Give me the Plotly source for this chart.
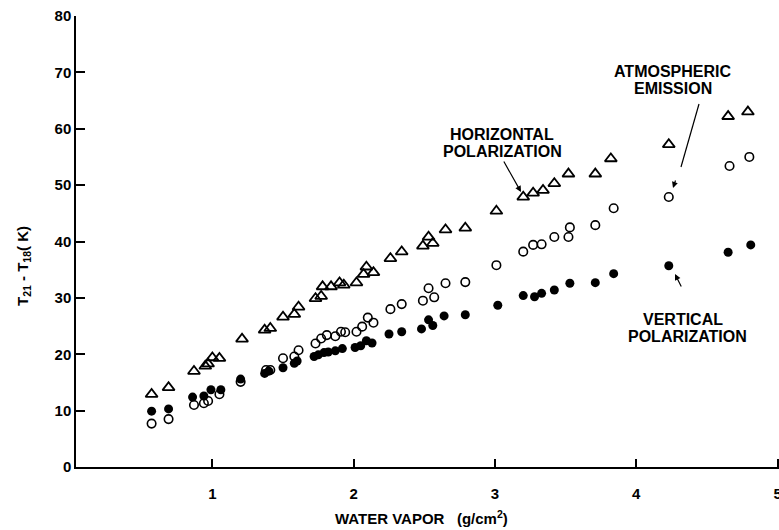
import plotly.graph_objects as go

# Water vapor (g/cm^2) and T21 - T18 (K)
tri_x = [0.57, 0.69, 0.87, 0.95, 0.97, 1.00, 1.05, 1.21, 1.37, 1.41, 1.50, 1.58, 1.61, 1.73, 1.77,
         1.78, 1.84, 1.90, 1.93, 2.02, 2.07, 2.09, 2.14, 2.26, 2.34, 2.49, 2.53, 2.56, 2.65, 2.79,
         3.01, 3.20, 3.27, 3.34, 3.42, 3.52, 3.71, 3.82, 4.23, 4.65, 4.79]
tri_y = [12.9, 14.1, 17.0, 17.9, 18.3, 19.4, 19.3, 22.7, 24.3, 24.6, 26.6, 27.1, 28.4, 29.9, 30.3,
         32.0, 32.0, 32.7, 32.3, 32.7, 34.2, 35.5, 34.5, 37.0, 38.2, 39.2, 40.8, 39.7, 42.1, 42.4,
         45.4, 47.9, 48.6, 49.1, 50.3, 52.0, 52.0, 54.7, 57.2, 62.2, 63.0]

open_x = [0.57, 0.69, 0.87, 0.94, 0.97, 1.05, 1.20, 1.38, 1.41, 1.50, 1.58, 1.61, 1.73, 1.77, 1.81,
          1.87, 1.91, 1.94, 2.02, 2.06, 2.10, 2.14, 2.26, 2.34, 2.49, 2.53, 2.57, 2.65, 2.79, 3.01,
          3.20, 3.27, 3.33, 3.42, 3.52, 3.53, 3.71, 3.84, 4.23, 4.66, 4.80]
open_y = [7.7, 8.5, 11.0, 11.3, 11.7, 12.9, 15.1, 17.2, 17.2, 19.3, 19.6, 20.7, 21.9, 22.8, 23.4,
          23.2, 24.0, 23.9, 24.0, 24.9, 26.5, 25.6, 28.0, 28.9, 29.5, 31.7, 30.1, 32.6, 32.8, 35.8,
          38.2, 39.4, 39.5, 40.8, 40.8, 42.5, 42.9, 45.9, 47.9, 53.4, 55.0]

fill_x = [0.57, 0.69, 0.86, 0.94, 0.99, 1.06, 1.20, 1.37, 1.40, 1.50, 1.58, 1.60, 1.72, 1.75, 1.79,
          1.82, 1.87, 1.92, 2.01, 2.05, 2.09, 2.13, 2.25, 2.34, 2.48, 2.53, 2.56, 2.64, 2.79, 3.02,
          3.20, 3.28, 3.33, 3.42, 3.53, 3.71, 3.84, 4.23, 4.65, 4.81]
fill_y = [9.9, 10.3, 12.4, 12.6, 13.7, 13.7, 15.6, 16.6, 17.0, 17.6, 18.4, 18.8, 19.6, 19.9, 20.3,
          20.4, 20.6, 21.0, 21.2, 21.5, 22.4, 22.0, 23.6, 24.0, 24.5, 26.1, 25.1, 26.8, 27.0, 28.7,
          30.4, 30.2, 30.8, 31.4, 32.6, 32.7, 34.3, 35.7, 38.1, 39.4]

x_ticks = [1, 2, 3, 4, 5]
y_ticks = [0, 10, 20, 30, 40, 50, 60, 70, 80]

FONT = "Liberation Sans"
W, H = 779, 530
ML, MR, MT, MB = 76, 0, 16, 63
PW, PH = W - ML - MR, H - MT - MB


def px(xp):
    return (xp - ML) / PW


def py(yp):
    return (H - MB - yp) / PH


fig = go.Figure()
fig.add_trace(go.Scatter(x=tri_x, y=tri_y, mode="markers",
                         marker=dict(symbol="triangle-up-open", size=10.5, color="black",
                                     line=dict(width=1.8, color="black"))))
fig.add_trace(go.Scatter(x=open_x, y=open_y, mode="markers",
                         marker=dict(symbol="circle-open", size=8.5, color="black",
                                     line=dict(width=1.6, color="black"))))
fig.add_trace(go.Scatter(x=fill_x, y=fill_y, mode="markers",
                         marker=dict(symbol="circle", size=9, color="black",
                                     line=dict(width=0))))

tfont = dict(family=FONT, size=15, color="black", weight="bold")
fig.update_layout(
    width=W, height=H,
    margin=dict(l=ML, r=MR, t=MT, b=MB, autoexpand=False),
    paper_bgcolor="white", plot_bgcolor="white",
    showlegend=False,
    font=dict(family=FONT, color="black", size=15),
    xaxis=dict(range=[0.035, 5.01], tickvals=x_ticks, ticktext=[str(v) for v in x_ticks],
               ticks="inside", ticklen=8, tickwidth=1.5, tickcolor="black",
               showline=True, linecolor="black", linewidth=1.5,
               showgrid=False, zeroline=False, ticklabelstandoff=12, tickfont=tfont,
               ticklabeloverflow="allow", automargin=False),
    yaxis=dict(range=[0, 80], tickvals=y_ticks, ticktext=[str(v) for v in y_ticks],
               ticks="inside", ticklen=9, tickwidth=1.5, tickcolor="black",
               showline=True, linecolor="black", linewidth=1.5,
               showgrid=False, zeroline=False, tickfont=tfont, automargin=False),
)

lab_font = dict(family=FONT, size=16, color="black", weight="bold")


def label(text, xp, yp, font=lab_font, angle=0):
    fig.add_annotation(xref="paper", yref="paper", x=px(xp), y=py(yp), text=text,
                       showarrow=False, font=font, textangle=angle,
                       xanchor="center", yanchor="middle")


def arrow(x0, y0, x1, y1):
    # arrow from pixel (x0, y0) to tip at pixel (x1, y1)
    fig.add_annotation(xref="paper", yref="paper", x=px(x1), y=py(y1),
                       axref="pixel", ayref="pixel", ax=x0 - x1, ay=y0 - y1,
                       text="", showarrow=True, arrowhead=2, arrowsize=1, arrowwidth=1.2,
                       arrowcolor="black", standoff=0)


# axis titles
label("WATER VAPOR &nbsp;&nbsp;(g/cm<sup>2</sup>)", 421, 517, font=tfont)
label("T<sub>21</sub> - T<sub>18</sub>( K)", 23, 266, font=tfont, angle=-90)

# callouts
label("HORIZONTAL", 502, 134)
label("POLARIZATION", 502, 152)
arrow(503, 160, 521, 192)

label("ATMOSPHERIC", 672, 71)
label("EMISSION", 673, 88)
fig.add_shape(type="line", xref="paper", yref="paper",
              x0=px(699), y0=py(104), x1=px(681), y1=py(167),
              line=dict(color="black", width=1.2))
arrow(676, 179, 673, 188)

label("VERTICAL", 683, 319)
label("POLARIZATION", 687, 336)
arrow(682, 288, 675, 274)

fig.write_html("out.html")
